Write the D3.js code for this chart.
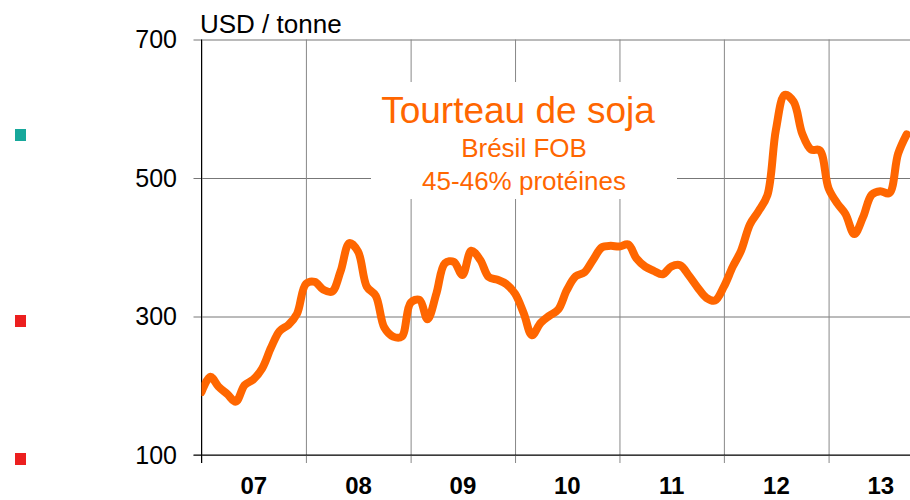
<!DOCTYPE html>
<html>
<head>
<meta charset="utf-8">
<script src="https://cdn.jsdelivr.net/npm/d3@7"></script>
<style>
  body { margin: 0; background: #fff; }
  svg { display: block; font-family: Arial, "Liberation Sans", sans-serif; }
</style>
</head>
<body>
<div id="chart"></div>
<script>
// monthly price, Jan 2007 -> Oct 2013 (USD / tonne)
var startMonth = new Date(2007, 0, 1);
var prix = [
  191, 213, 199, 188, 177, 201, 209, 225, 255, 279, 288, 304,
  347, 350, 339, 336, 365, 406, 394, 343, 330, 284, 271, 271,
  320, 324, 296, 333, 377, 379, 360, 395, 382, 357, 353, 347,
  333, 304, 273, 291, 301, 310, 338, 358, 364, 382, 400, 402,
  401, 404, 384, 372, 366, 361, 372, 374, 359, 342, 327, 323,
  343, 372, 395, 433, 452, 475, 570, 620, 610, 564, 541, 540,
  485, 463, 448, 419, 443, 476, 481, 478, 535, 563
];
var years = [2007, 2008, 2009, 2010, 2011, 2012, 2013];
var yTicks = [100, 300, 500, 700];
var titre = "Tourteau de soja";
var sousTitres = ["Brésil FOB", "45-46% protéines"];
var unite = "USD / tonne";

var data = prix.map(function(v, i) {
  return { date: d3.timeMonth.offset(startMonth, i), value: v };
});

var W = 910, H = 500;
var plotLeft = 201.5, plotTop = 39.5, plotBottom = 455;

var svg = d3.select("#chart").append("svg")
    .attr("width", W)
    .attr("height", H);

var x = d3.scaleTime()
    .domain([new Date(2007, 0, 1), new Date(2014, 0, 1)])
    .range([plotLeft, plotLeft + 104.5 * 7]);

var y = d3.scaleLinear()
    .domain([100, 700])
    .range([plotBottom, plotTop]);

// stray legend squares on the left
[[135, "#17a89b"], [321, "#ec1f1f"], [459, "#ec1f1f"]].forEach(function(s) {
  svg.append("rect")
      .attr("x", 15).attr("y", s[0] - 6)
      .attr("width", 11).attr("height", 12)
      .attr("fill", s[1]);
});

// horizontal grid + y labels
var yAxis = svg.append("g")
    .attr("transform", "translate(193.5,0)")
    .call(d3.axisLeft(y).tickValues(yTicks).tickSize(-(W - 193.5)).tickPadding(16.5));
yAxis.select(".domain").remove();
yAxis.selectAll("line").attr("stroke", "#777");
yAxis.selectAll("text")
    .attr("fill", "#000")
    .style("font-size", "25px");

// vertical grid (year boundaries), with ticks under the axis
var xGrid = svg.append("g")
    .attr("transform", "translate(0," + (plotBottom + 8) + ")")
    .call(d3.axisBottom(x).tickValues(years.map(function(yr) { return new Date(yr, 0, 1); }))
      .tickSize(-(plotBottom + 8 - plotTop)).tickFormat(""));
xGrid.select(".domain").remove();
xGrid.selectAll("line").attr("stroke", "#888");

// year labels at mid-year
var xLabels = svg.append("g")
    .attr("transform", "translate(0," + plotBottom + ")")
    .call(d3.axisBottom(x).tickValues(years.map(function(yr) { return new Date(yr, 6, 1); }))
      .tickSize(0).tickFormat(d3.timeFormat("%y")));
xLabels.select(".domain").remove();
xLabels.selectAll("text")
    .attr("y", 39).attr("dy", null)
    .attr("fill", "#000")
    .style("font-size", "24px")
    .style("font-weight", "bold");

// axes lines
svg.append("line")
    .attr("x1", plotLeft).attr("x2", plotLeft)
    .attr("y1", plotTop).attr("y2", plotBottom + 8)
    .attr("stroke", "#000");
svg.append("line")
    .attr("x1", 193.5).attr("x2", W)
    .attr("y1", plotBottom).attr("y2", plotBottom)
    .attr("stroke", "#000");

// white box behind the title
svg.append("rect")
    .attr("x", 371).attr("y", 82)
    .attr("width", 306).attr("height", 117)
    .attr("fill", "#fff");

svg.append("text")
    .attr("x", 518).attr("y", 123)
    .attr("text-anchor", "middle")
    .attr("fill", "#ff6600")
    .style("font-size", "37px")
    .text(titre);

svg.selectAll(".sous")
    .data(sousTitres)
    .enter().append("text")
    .attr("x", 524)
    .attr("y", function(d, i) { return 157 + i * 33; })
    .attr("text-anchor", "middle")
    .attr("fill", "#ff6600")
    .style("font-size", "26px")
    .text(function(d) { return d; });

svg.append("text")
    .attr("x", 200).attr("y", 33)
    .attr("fill", "#000")
    .style("font-size", "26px")
    .text(unite);

// price line
svg.append("clipPath").attr("id", "clip")
  .append("rect")
    .attr("x", plotLeft).attr("y", 0)
    .attr("width", W - plotLeft).attr("height", H);

var line = d3.line()
    .x(function(d) { return x(d.date); })
    .y(function(d) { return y(d.value); })
    .curve(d3.curveCatmullRom.alpha(0.5));

svg.append("path")
    .datum(data)
    .attr("clip-path", "url(#clip)")
    .attr("fill", "none")
    .attr("stroke", "#ff6600")
    .attr("stroke-width", 8)
    .attr("stroke-linejoin", "round")
    .attr("stroke-linecap", "round")
    .attr("d", line);
</script>
</body>
</html>
